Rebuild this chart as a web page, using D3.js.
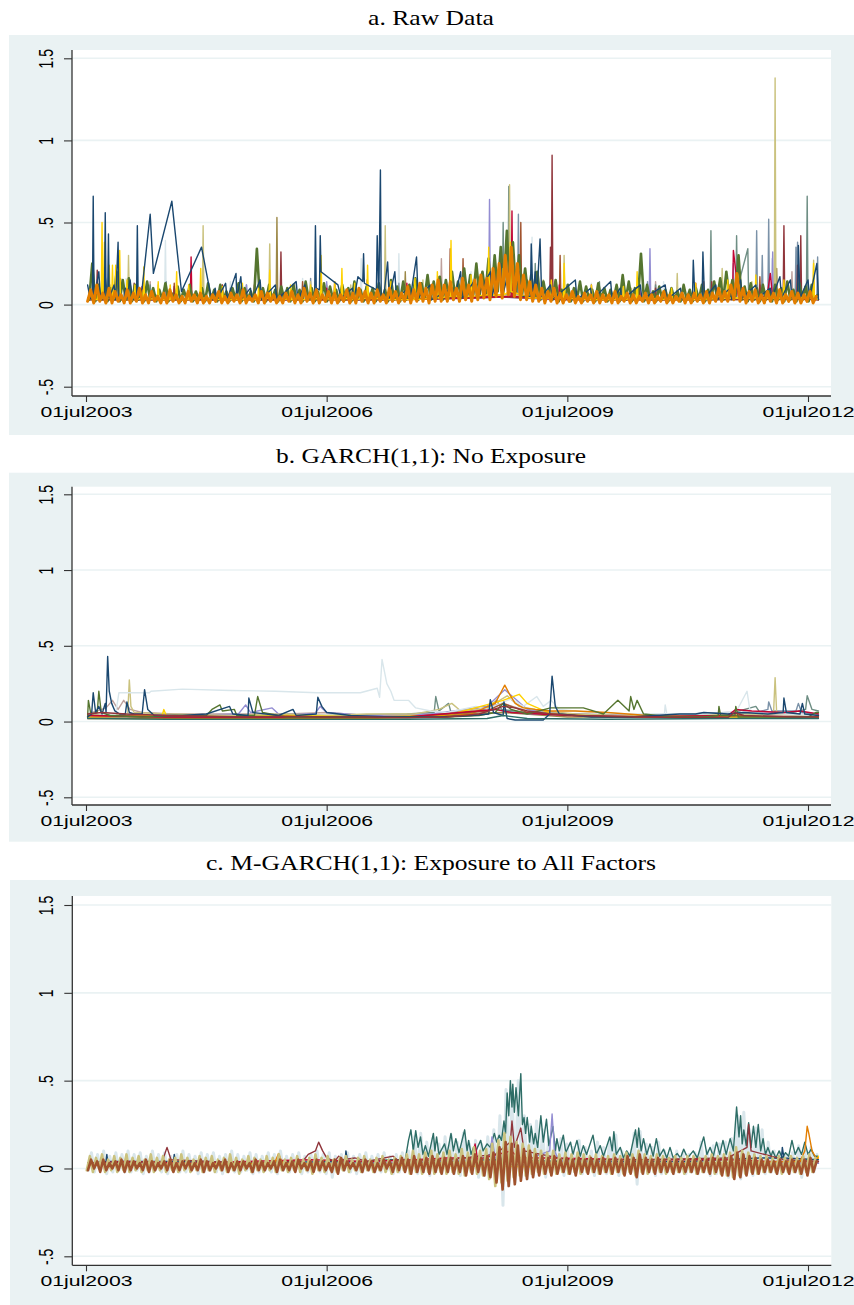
<!DOCTYPE html>
<html><head><meta charset="utf-8">
<script src="https://cdn.jsdelivr.net/npm/d3@7/dist/d3.min.js"></script>
<style>body{margin:0;background:#fff}svg{display:block}</style>
</head><body>
<svg id="chart" width="854" height="1305"></svg>
<script>
// ---------------- DATA ----------------
const titles = ["a. Raw Data", "b. GARCH(1,1): No Exposure", "c. M-GARCH(1,1): Exposure to All Factors"];
const xTickYears = [2003.5, 2006.5, 2009.5, 2012.5];
const xTickLabels = ["01jul2003", "01jul2006", "01jul2009", "01jul2012"];
const yTicks = [-0.5, 0, 0.5, 1, 1.5];
const yTickLabels = ["-.5", "0", ".5", "1", "1.5"];
const STEP = 0.038; // sampling step (years) of the dense series

// ---- panel a: raw data ----
const rawOrange = [.02,.09,.01,.12,.02,.07,.01,.1,.01,.08,.02,.06,.01,.09,
.01,.07,.02,.1,.01,.06,.01,.08,.02,.05,.01,.07,.01,.09,.02,.06,.01,.05,.01,.08,.02,.06,.01,.07,.01,.05,
.01,.06,.02,.08,.01,.05,.01,.07,.02,.06,.01,.09,.01,.05,.02,.06,.01,.08,.01,.07,.02,.06,.01,.05,.01,.07,
.02,.08,.01,.06,.01,.1,.02,.07,.01,.09,.01,.06,.02,.08,.01,.07,.01,.06,.02,.09,.01,.07,.01,.1,.02,.08,
.01,.07,.01,.09,.02,.06,.01,.1,.02,.08,.01,.07,.02,.11,.01,.09,.02,.13,.02,.1,.01,.12,.02,.15,.02,.12,
.02,.14,.03,.1,.02,.16,.03,.12,.02,.15,.03,.18,.04,.16,.03,.22,.05,.25,.04,.3,.06,.35,.05,.25,.03,.18,
.03,.14,.02,.12,.02,.1,.01,.08,.02,.1,.01,.07,.01,.06,.02,.08,.01,.05,.01,.07,.02,.06,.01,.08,.01,.06,
.02,.06,.01,.08,.01,.05,.02,.07,.01,.06,.01,.05,.02,.07,.01,.06,.01,.05,.02,.08,.01,.06,.01,.05,.02,.07,.01,.06,
.01,.07,.02,.06,.01,.08,.01,.07,.02,.1,.02,.08,.02,.12,.03,.19,.02,.1,.01,.08,.02,.09,.01,.06,.01,.08,
.02,.07,.01,.09,.01,.06,.02,.08,.01,.07,.01,.06,.02,.08,.01,.05];
const rawGreen = [.03,.25,.02,.12,.03,.18,.02,.1,.03,.2,.02,.15,.03,.16,
.02,.12,.03,.08,.02,.14,.03,.1,.02,.09,.03,.13,.02,.07,.03,.11,.02,.09,.03,.12,.02,.08,.03,.1,.02,.13,
.03,.09,.02,.12,.03,.08,.02,.1,.03,.13,.02,.1,.03,.08,.02,.34,.03,.1,.02,.12,.03,.09,.02,.11,.03,.1,
.02,.12,.03,.09,.02,.14,.03,.1,.02,.08,.03,.13,.02,.11,.03,.09,.02,.12,.03,.1,.02,.14,.03,.09,.02,.11,
.03,.1,.02,.13,.03,.09,.02,.15,.03,.11,.02,.14,.03,.12,.04,.16,.03,.13,.04,.18,.03,.14,.04,.17,.03,.15,
.04,.2,.05,.14,.04,.22,.05,.18,.06,.25,.05,.2,.07,.28,.06,.3,.08,.35,.1,.45,.08,.38,.07,.3,.06,.22,
.05,.18,.04,.2,.03,.14,.04,.1,.03,.15,.02,.09,.03,.12,.02,.1,.03,.14,.02,.11,.03,.09,.02,.13,.03,.1,
.02,.09,.03,.12,.02,.18,.03,.14,.02,.1,.03,.31,.02,.12,.03,.08,.02,.11,.03,.09,.02,.1,.03,.08,.02,.12,.03,.09,
.02,.1,.03,.12,.02,.09,.03,.14,.04,.16,.03,.2,.04,.15,.05,.3,.03,.11,.02,.13,.03,.1,.02,.12,.03,.09,
.02,.12,.03,.1,.02,.14,.03,.09,.02,.13,.03,.11,.02,.12,.03,.06];
const rawNavy = [[2003.52,.12],[2003.55,.04],[2003.58,.03],[2003.59,.66],[2003.60,.03],[2003.66,.2],[2003.68,.04],[2003.73,.05],[2003.74,.56],[2003.75,.05],[2003.77,.04],[2003.78,.43],[2003.79,.04],[2003.85,.12],[2003.87,.03],[2003.90,.38],[2003.91,.04],[2003.97,.03],[2003.99,.1],[2004.01,.03],[2004.05,.15],[2004.08,.03],[2004.13,.04],[2004.14,.48],[2004.15,.04],[2004.20,.1],[2004.30,.55],[2004.34,.19],[2004.57,.63],[2004.69,.08],[2004.94,.35],[2005.05,.07],[2005.08,.03],[2005.11,.1],[2005.13,.03],[2005.24,.13],[2005.26,.03],[2005.37,.19],[2005.38,.04],[2005.43,.17],[2005.45,.04],[2005.55,.1],[2005.57,.03],[2005.67,.15],[2005.69,.03],[2005.86,.12],[2005.88,.03],[2006.12,.14],[2006.14,.03],[2006.23,.12],[2006.25,.03],[2006.35,.04],[2006.36,.48],[2006.37,.1],[2006.41,.09],[2006.42,.42],[2006.43,.2],[2006.64,.12],[2006.68,.04],[2006.82,.1],[2006.84,.03],[2006.89,.17],[2006.95,.14],[2006.96,.31],[2006.97,.13],[2007.12,.09],[2007.13,.42],[2007.15,.04],[2007.17,.82],[2007.18,.05],[2007.21,.04],[2007.26,.26],[2007.28,.04],[2007.35,.2],[2007.37,.04],[2007.52,.1],[2007.54,.03],[2007.62,.29],[2007.64,.04],[2007.79,.12],[2007.81,.03],[2008.07,.1],[2008.09,.03],[2008.17,.2],[2008.19,.04],[2008.35,.15],[2008.37,.04],[2008.54,.2],[2008.56,.05],[2008.67,.25],[2008.69,.05],[2008.82,.3],[2008.84,.06],[2008.90,.2],[2008.92,.05],[2009.04,.05],[2009.05,.37],[2009.07,.05],[2009.10,.2],[2009.12,.05],[2009.16,.4],[2009.18,.05],[2009.29,.12],[2009.31,.03],[2009.60,.15],[2009.62,.03],[2009.79,.1],[2009.81,.03],[2010.04,.14],[2010.06,.03],[2010.16,.1],[2010.18,.03],[2010.41,.12],[2010.43,.03],[2010.72,.12],[2010.74,.03],[2010.91,.1],[2010.93,.03],[2011.06,.04],[2011.07,.27],[2011.09,.04],[2011.18,.04],[2011.19,.32],[2011.21,.04],[2011.35,.12],[2011.37,.03],[2011.53,.1],[2011.55,.03],[2011.66,.15],[2011.68,.04],[2011.85,.12],[2011.87,.04],[2012.03,.1],[2012.05,.04],[2012.15,.17],[2012.17,.04],[2012.28,.15],[2012.30,.04],[2012.37,.04],[2012.38,.36],[2012.40,.04],[2012.50,.15],[2012.52,.04],[2012.61,.25],[2012.63,.03]];
const rawGold = [[2003.52,.04],[2003.64,.03],[2003.65,.1],[2003.66,.03],[2003.69,.04],[2003.70,.5],[2003.71,.04],[2003.72,.04],[2003.73,.38],[2003.74,.04],[2003.78,.04],[2003.79,.24],[2003.80,.04],[2003.82,.04],[2003.83,.24],[2003.84,.04],[2003.86,.04],[2003.87,.24],[2003.88,.04],[2003.91,.04],[2003.92,.33],[2003.93,.04],[2004.00,.03],[2004.01,.15],[2004.02,.03],[2004.10,.03],[2004.11,.12],[2004.12,.03],[2004.21,.04],[2004.22,.23],[2004.23,.04],[2004.39,.03],[2004.40,.14],[2004.41,.03],[2004.54,.03],[2004.55,.12],[2004.56,.03],[2004.62,.04],[2004.63,.2],[2004.64,.03],[2004.77,.03],[2004.78,.12],[2004.79,.03],[2004.92,.04],[2004.93,.22],[2004.94,.04],[2005.19,.03],[2005.20,.11],[2005.21,.03],[2005.44,.03],[2005.45,.13],[2005.46,.03],[2005.64,.03],[2005.65,.1],[2005.66,.03],[2005.78,.04],[2005.79,.21],[2005.80,.04],[2006.04,.03],[2006.05,.12],[2006.06,.03],[2006.29,.03],[2006.30,.12],[2006.31,.03],[2006.42,.04],[2006.43,.3],[2006.44,.04],[2006.59,.03],[2006.60,.14],[2006.61,.03],[2006.68,.04],[2006.69,.22],[2006.70,.04],[2006.84,.03],[2006.85,.13],[2006.86,.03],[2007.00,.04],[2007.01,.24],[2007.02,.04],[2007.29,.03],[2007.30,.14],[2007.31,.03],[2007.59,.03],[2007.60,.16],[2007.61,.03],[2007.87,.04],[2007.88,.2],[2007.89,.04],[2008.04,.05],[2008.05,.39],[2008.06,.05],[2008.29,.05],[2008.30,.18],[2008.31,.05],[2008.51,.06],[2008.52,.35],[2008.53,.06],[2008.69,.06],[2008.70,.22],[2008.71,.06],[2008.78,.08],[2008.79,.38],[2008.80,.08],[2009.04,.04],[2009.05,.15],[2009.06,.04],[2009.29,.04],[2009.30,.15],[2009.31,.04],[2009.45,.04],[2009.46,.25],[2009.47,.04],[2009.79,.03],[2009.80,.12],[2009.81,.03],[2010.19,.03],[2010.20,.11],[2010.21,.03],[2010.36,.04],[2010.37,.2],[2010.38,.04],[2010.79,.03],[2010.80,.1],[2010.81,.03],[2011.09,.03],[2011.10,.13],[2011.11,.03],[2011.49,.04],[2011.50,.15],[2011.51,.04],[2011.84,.04],[2011.85,.18],[2011.86,.04],[2012.19,.04],[2012.20,.15],[2012.21,.04],[2012.56,.04],[2012.57,.25],[2012.58,.04],[2012.63,.03]];
const rawKhaki = [[2003.52,.04],[2003.79,.03],[2003.80,.12],[2003.81,.03],[2004.02,.03],[2004.03,.3],[2004.04,.03],[2004.39,.03],[2004.40,.12],[2004.41,.03],[2004.95,.04],[2004.96,.48],[2004.97,.04],[2005.39,.03],[2005.40,.13],[2005.41,.03],[2005.78,.04],[2005.79,.37],[2005.80,.04],[2006.29,.03],[2006.30,.14],[2006.31,.03],[2006.79,.03],[2006.80,.12],[2006.81,.03],[2007.22,.04],[2007.23,.48],[2007.24,.04],[2007.69,.04],[2007.70,.15],[2007.71,.04],[2008.29,.05],[2008.30,.16],[2008.31,.05],[2008.77,.06],[2008.78,.73],[2008.79,.06],[2009.19,.04],[2009.20,.15],[2009.21,.04],[2009.45,.04],[2009.46,.3],[2009.47,.04],[2010.29,.03],[2010.30,.1],[2010.31,.03],[2010.86,.03],[2010.87,.19],[2010.88,.03],[2011.42,.04],[2011.43,.22],[2011.44,.04],[2011.79,.04],[2011.80,.14],[2011.81,.04],[2012.08,.04],[2012.09,1.38],[2012.10,.04],[2012.56,.04],[2012.57,.27],[2012.58,.04],[2012.63,.03]];
const rawBrown = [[2003.52,.03],[2004.49,.03],[2004.50,.12],[2004.51,.03],[2005.19,.03],[2005.20,.1],[2005.21,.03],[2005.87,.03],[2005.88,.53],[2005.89,.03],[2006.49,.03],[2006.50,.12],[2006.51,.03],[2007.47,.03],[2007.48,.2],[2007.49,.03],[2008.29,.04],[2008.30,.14],[2008.31,.04],[2008.79,.05],[2008.80,.2],[2008.81,.05],[2009.59,.03],[2009.60,.1],[2009.61,.03],[2010.49,.03],[2010.50,.11],[2010.51,.03],[2011.49,.03],[2011.50,.13],[2011.51,.03],[2012.10,.03],[2012.11,.22],[2012.12,.03],[2012.63,.03]];
const rawMaroon = [[2003.52,.04],[2003.63,.03],[2003.64,.21],[2003.65,.03],[2004.09,.03],[2004.10,.13],[2004.11,.03],[2004.59,.03],[2004.60,.11],[2004.61,.03],[2005.19,.03],[2005.20,.12],[2005.21,.03],[2005.92,.03],[2005.93,.32],[2005.94,.03],[2006.59,.03],[2006.60,.14],[2006.61,.03],[2007.29,.03],[2007.30,.12],[2007.31,.03],[2007.89,.04],[2007.90,.16],[2007.91,.04],[2008.49,.05],[2008.50,.2],[2008.51,.05],[2008.99,.04],[2009.00,.15],[2009.01,.04],[2009.28,.04],[2009.29,.35],[2009.30,.04],[2009.31,.91],[2009.32,.04],[2009.79,.03],[2009.80,.12],[2009.81,.03],[2010.59,.03],[2010.60,.1],[2010.61,.03],[2011.29,.03],[2011.30,.14],[2011.31,.03],[2011.89,.03],[2011.90,.12],[2011.91,.03],[2012.19,.04],[2012.20,.48],[2012.21,.04],[2012.36,.04],[2012.37,.24],[2012.38,.04],[2012.40,.04],[2012.41,.42],[2012.42,.04],[2012.63,.03]];
const rawCranberry = [[2003.52,.03],[2004.19,.03],[2004.20,.11],[2004.21,.03],[2004.80,.03],[2004.81,.29],[2004.82,.03],[2005.59,.03],[2005.60,.12],[2005.61,.03],[2006.49,.03],[2006.50,.1],[2006.51,.03],[2007.49,.03],[2007.50,.13],[2007.51,.03],[2008.29,.04],[2008.30,.15],[2008.31,.04],[2008.80,.05],[2008.81,.57],[2008.82,.05],[2009.39,.03],[2009.40,.12],[2009.41,.03],[2010.39,.03],[2010.40,.11],[2010.41,.03],[2011.09,.03],[2011.10,.13],[2011.11,.03],[2011.56,.05],[2011.57,.33],[2011.60,.2],[2011.63,.05],[2011.99,.05],[2012.03,.19],[2012.06,.04],[2012.63,.03]];
const rawLavender = [[2003.52,.03],[2003.89,.03],[2003.90,.15],[2003.91,.03],[2004.49,.03],[2004.50,.1],[2004.51,.03],[2005.49,.03],[2005.50,.12],[2005.51,.03],[2006.49,.03],[2006.50,.14],[2006.51,.03],[2007.49,.03],[2007.50,.11],[2007.51,.03],[2008.52,.05],[2008.53,.64],[2008.54,.05],[2009.29,.03],[2009.30,.12],[2009.31,.03],[2010.52,.03],[2010.53,.34],[2010.54,.03],[2011.29,.03],[2011.30,.12],[2011.31,.03],[2011.56,.04],[2011.57,.25],[2011.58,.04],[2012.05,.04],[2012.06,.32],[2012.07,.04],[2012.63,.03]];
const rawTeal = [[2003.52,.03],[2004.29,.03],[2004.30,.12],[2004.31,.03],[2005.29,.03],[2005.30,.1],[2005.31,.03],[2006.29,.03],[2006.30,.11],[2006.31,.03],[2007.29,.03],[2007.30,.14],[2007.31,.03],[2008.19,.04],[2008.20,.18],[2008.21,.04],[2008.69,.06],[2008.70,.5],[2008.71,.06],[2008.76,.06],[2008.77,.72],[2008.78,.06],[2009.09,.04],[2009.10,.25],[2009.11,.04],[2009.89,.03],[2009.90,.14],[2009.91,.03],[2010.59,.03],[2010.60,.12],[2010.61,.03],[2011.28,.04],[2011.29,.45],[2011.30,.04],[2011.60,.04],[2011.61,.42],[2011.62,.1],[2011.75,.34],[2011.76,.04],[2012.48,.04],[2012.49,.66],[2012.50,.04],[2012.63,.03]];
const rawEmidblue = [[2003.52,.03],[2004.49,.03],[2004.50,.14],[2004.51,.03],[2005.49,.03],[2005.50,.12],[2005.51,.03],[2006.29,.03],[2006.30,.16],[2006.31,.03],[2007.39,.03],[2007.40,.13],[2007.41,.03],[2008.39,.04],[2008.40,.17],[2008.41,.04],[2008.88,.05],[2008.89,.55],[2008.90,.05],[2009.49,.03],[2009.50,.12],[2009.51,.03],[2010.49,.03],[2010.50,.14],[2010.51,.03],[2011.29,.03],[2011.30,.12],[2011.31,.03],[2011.85,.04],[2011.86,.45],[2011.87,.04],[2011.92,.04],[2011.93,.3],[2011.94,.04],[2012.00,.04],[2012.01,.52],[2012.02,.04],[2012.34,.04],[2012.35,.35],[2012.36,.04],[2012.37,.38],[2012.38,.04],[2012.61,.04],[2012.62,.29],[2012.63,.03]];
const rawSienna = [[2003.52,.04],[2003.92,.03],[2003.93,.16],[2003.94,.03],[2004.59,.03],[2004.60,.13],[2004.61,.03],[2005.39,.03],[2005.40,.11],[2005.41,.03],[2006.19,.03],[2006.20,.14],[2006.21,.03],[2006.99,.03],[2007.00,.12],[2007.01,.03],[2007.89,.04],[2007.90,.17],[2007.91,.04],[2008.03,.04],[2008.04,.34],[2008.05,.04],[2008.19,.04],[2008.20,.28],[2008.21,.04],[2008.59,.05],[2008.60,.2],[2008.61,.05],[2008.91,.05],[2008.92,.5],[2008.93,.05],[2009.40,.04],[2009.41,.3],[2009.42,.04],[2010.19,.03],[2010.20,.12],[2010.21,.03],[2011.19,.03],[2011.20,.14],[2011.21,.03],[2011.89,.04],[2011.90,.17],[2011.91,.04],[2012.63,.03]];
const rawErose = [[2003.52,.03],[2004.29,.03],[2004.30,.14],[2004.31,.03],[2005.19,.03],[2005.20,.12],[2005.21,.03],[2006.09,.03],[2006.10,.13],[2006.11,.03],[2006.99,.03],[2007.00,.15],[2007.01,.03],[2007.92,.04],[2007.93,.28],[2007.94,.04],[2008.59,.05],[2008.60,.17],[2008.61,.05],[2009.49,.03],[2009.50,.12],[2009.51,.03],[2010.59,.03],[2010.60,.14],[2010.61,.03],[2011.49,.03],[2011.50,.13],[2011.51,.03],[2012.29,.04],[2012.30,.2],[2012.31,.04],[2012.63,.03]];
const rawBluish = [[2003.52,.04],[2003.99,.03],[2004.00,.16],[2004.01,.03],[2004.48,.03],[2004.49,.39],[2004.50,.03],[2005.29,.03],[2005.30,.14],[2005.31,.03],[2006.19,.03],[2006.20,.16],[2006.21,.03],[2006.92,.04],[2006.93,.28],[2006.94,.04],[2007.39,.04],[2007.40,.31],[2007.41,.04],[2008.29,.05],[2008.30,.2],[2008.31,.05],[2008.89,.06],[2008.90,.25],[2008.91,.06],[2009.05,.05],[2009.06,.41],[2009.07,.05],[2009.79,.03],[2009.80,.13],[2009.81,.03],[2010.69,.03],[2010.70,.14],[2010.71,.03],[2011.59,.04],[2011.60,.17],[2011.61,.04],[2012.04,.04],[2012.05,.28],[2012.06,.04],[2012.63,.03]];

// ---- panel b: GARCH(1,1), no exposure ----
const garchBluish = [[2003.52,.03],[2003.8,.05],[2003.87,.05],[2003.91,.19],[2004.29,.19],[2004.31,.2],[2004.70,.214],[2005.30,.205],[2005.86,.2],[2006.38,.19],[2006.92,.19],[2007.13,.22],[2007.16,.16],[2007.19,.41],[2007.25,.25],[2007.30,.2],[2007.34,.14],[2007.52,.14],[2007.61,.09],[2007.8,.07],[2008.0,.06],[2008.36,.1],[2008.5,.08],[2008.8,.15],[2008.95,.1],[2009.12,.165],[2009.2,.1],[2009.3,.14],[2009.4,.08],[2009.8,.06],[2010.3,.05],[2010.71,.05],[2010.72,.11],[2010.74,.05],[2011.2,.05],[2011.6,.06],[2011.74,.2],[2011.78,.06],[2012.2,.05],[2012.63,.04]];
const garchNavy = [[2003.52,.03],[2003.57,.05],[2003.59,.19],[2003.62,.06],[2003.66,.1],[2003.7,.05],[2003.74,.12],[2003.75,.06],[2003.77,.43],[2003.79,.2],[2003.82,.12],[2003.86,.07],[2003.92,.05],[2003.99,.05],[2004.01,.13],[2004.04,.06],[2004.1,.05],[2004.2,.05],[2004.23,.21],[2004.27,.08],[2004.35,.04],[2004.7,.04],[2005.0,.05],[2005.29,.1],[2005.33,.05],[2005.52,.04],[2005.53,.155],[2005.58,.06],[2005.9,.04],[2006.08,.08],[2006.12,.04],[2006.37,.05],[2006.39,.16],[2006.44,.1],[2006.5,.06],[2006.8,.04],[2007.3,.03],[2007.9,.03],[2008.3,.04],[2008.52,.05],[2008.54,.145],[2008.58,.06],[2008.7,.04],[2008.71,.13],[2008.75,.02],[2008.85,.01],[2009.2,.01],[2009.28,.05],[2009.31,.3],[2009.35,.1],[2009.4,.05],[2009.8,.03],[2010.3,.03],[2010.9,.05],[2011.1,.05],[2011.2,.06],[2011.5,.05],[2011.7,.06],[2012.0,.05],[2012.19,.06],[2012.20,.155],[2012.23,.06],[2012.4,.05],[2012.43,.12],[2012.46,.05],[2012.63,.04]];
const garchGreen = [[2003.52,.03],[2003.53,.14],[2003.56,.05],[2003.64,.06],[2003.66,.2],[2003.69,.06],[2003.8,.04],[2004.2,.03],[2004.6,.04],[2005.0,.04],[2005.07,.08],[2005.17,.11],[2005.2,.07],[2005.35,.08],[2005.38,.04],[2005.6,.04],[2005.64,.165],[2005.7,.06],[2006.0,.03],[2006.5,.03],[2007.0,.03],[2007.5,.03],[2008.0,.03],[2008.4,.04],[2008.6,.06],[2008.7,.12],[2008.8,.08],[2009.0,.05],[2009.29,.09],[2009.70,.09],[2009.95,.05],[2010.13,.14],[2010.27,.07],[2010.29,.165],[2010.33,.08],[2010.37,.14],[2010.45,.05],[2010.8,.03],[2011.2,.03],[2011.38,.04],[2011.39,.1],[2011.41,.04],[2011.59,.04],[2011.6,.1],[2011.63,.03],[2012.0,.03],[2012.5,.03],[2012.6,.06],[2012.63,.06]];
const garchKhaki = [[2003.52,.04],[2003.8,.05],[2004.02,.05],[2004.04,.275],[2004.06,.1],[2004.1,.06],[2004.5,.05],[2005.3,.04],[2006.0,.05],[2006.5,.04],[2007.0,.05],[2007.6,.05],[2007.9,.08],[2008.06,.12],[2008.15,.08],[2008.3,.07],[2008.5,.09],[2008.75,.17],[2008.9,.1],[2009.2,.07],[2009.6,.05],[2010.2,.04],[2011.0,.04],[2011.6,.05],[2012.07,.05],[2012.09,.29],[2012.11,.05],[2012.63,.04]];
const garchLavender = [[2003.52,.04],[2004.0,.05],[2004.8,.04],[2005.4,.05],[2005.49,.11],[2005.55,.06],[2005.82,.09],[2005.9,.05],[2006.35,.05],[2006.42,.1],[2006.5,.06],[2007.0,.04],[2007.8,.05],[2008.5,.1],[2008.72,.21],[2008.85,.15],[2009.0,.08],[2009.5,.05],[2010.5,.04],[2011.5,.05],[2012.0,.06],[2012.63,.04]];
const garchOrange = [[2003.52,.02],[2004.0,.02],[2005.0,.02],[2006.0,.02],[2007.0,.02],[2007.8,.03],[2008.3,.05],[2008.6,.12],[2008.68,.2],[2008.72,.24],[2008.78,.18],[2008.85,.12],[2008.95,.09],[2009.1,.08],[2009.3,.07],[2009.6,.07],[2010.0,.06],[2010.5,.04],[2011.0,.03],[2011.6,.04],[2012.0,.03],[2012.63,.03]];
const garchMaroon = [[2003.52,.05],[2003.7,.06],[2004.0,.05],[2004.5,.04],[2005.0,.035],[2005.5,.03],[2006.0,.035],[2006.5,.03],[2007.0,.03],[2007.5,.025],[2008.0,.03],[2008.4,.05],[2008.7,.1],[2008.85,.09],[2009.0,.07],[2009.3,.05],[2009.6,.04],[2010.0,.035],[2010.5,.03],[2011.0,.025],[2011.5,.025],[2011.58,.06],[2011.7,.04],[2012.0,.035],[2012.3,.03],[2012.63,.03]];
const garchCranberry = [[2003.52,.04],[2004.5,.03],[2006.0,.03],[2007.5,.03],[2008.6,.08],[2008.8,.06],[2009.5,.04],[2010.5,.03],[2011.5,.04],[2011.6,.08],[2011.8,.07],[2012.2,.06],[2012.4,.07],[2012.63,.05]];
const garchErose = [[2003.52,.05],[2003.75,.09],[2003.83,.14],[2003.9,.08],[2003.97,.14],[2004.05,.08],[2004.2,.06],[2004.6,.05],[2005.3,.05],[2006.0,.05],[2006.5,.06],[2007.0,.04],[2008.0,.05],[2008.7,.12],[2009.0,.07],[2009.5,.05],[2010.5,.04],[2011.5,.05],[2012.0,.05],[2012.63,.04]];
const garchTeal = [[2003.52,.04],[2004.5,.04],[2005.5,.04],[2006.5,.04],[2007.5,.05],[2007.84,.06],[2007.86,.165],[2007.9,.07],[2008.02,.12],[2008.05,.06],[2008.5,.08],[2008.62,.14],[2008.68,.08],[2009.0,.06],[2010.0,.04],[2011.0,.04],[2011.5,.05],[2011.85,.1],[2011.9,.06],[2012.3,.06],[2012.47,.08],[2012.49,.17],[2012.55,.08],[2012.63,.07]];
const garchEmidblue = [[2003.52,.03],[2004.5,.03],[2005.5,.03],[2006.5,.03],[2007.5,.03],[2008.6,.08],[2009.0,.05],[2010.0,.04],[2011.0,.05],[2011.5,.06],[2011.85,.06],[2012.0,.08],[2012.01,.13],[2012.05,.07],[2012.35,.07],[2012.38,.12],[2012.42,.06],[2012.63,.05]];
const garchGold = [[2003.52,.03],[2004.45,.04],[2004.47,.08],[2004.5,.04],[2005.3,.03],[2006.0,.04],[2007.0,.03],[2008.0,.04],[2008.7,.14],[2008.9,.18],[2009.0,.12],[2009.3,.05],[2010.0,.03],[2011.0,.03],[2012.0,.03],[2012.63,.03]];
const garchSienna = [[2003.52,.04],[2004.5,.03],[2006.0,.03],[2007.5,.03],[2008.5,.07],[2008.7,.12],[2009.0,.06],[2010.0,.03],[2011.5,.04],[2012.63,.03]];
const garchEmerald = [[2003.52,.02],[2004.5,.015],[2006.0,.015],[2007.5,.015],[2008.5,.02],[2008.7,.04],[2009.0,.02],[2010.0,.015],[2011.5,.02],[2012.63,.02]];
const garchBrown = [[2003.52,.03],[2005,.03],[2007,.03],[2008.7,.06],[2009.5,.03],[2011.5,.03],[2012.63,.03]];

// ---- panel c: M-GARCH(1,1), exposure to all factors ----
const mgBluish = [-.01,.09,-.02,.08,-.01,.1,-.03,.07,-.02,.09,-.01,.08,-.02,.1,
-.02,.08,-.01,.09,-.03,.07,-.02,.1,-.01,.08,-.02,.09,-.03,.07,-.01,.08,-.02,.1,-.02,.08,-.01,.07,-.03,.09,-.02,.08,
-.01,.09,-.02,.07,-.03,.08,-.01,.1,-.02,.08,-.02,.07,-.01,.09,-.03,.08,-.02,.07,-.01,.09,-.02,.08,-.03,.1,-.01,.07,
-.02,.08,-.01,.09,-.03,.07,-.02,.08,-.01,.1,-.02,.08,-.03,.09,-.05,.07,-.02,.08,-.01,.09,-.02,.07,-.03,.08,-.02,.09,
-.01,.07,-.02,.08,-.02,.09,-.01,.07,-.03,.08,-.02,.09,-.01,.1,-.02,.18,-.03,.2,-.02,.15,-.04,.17,-.02,.14,-.03,.18,
-.02,.19,-.03,.15,-.04,.2,-.02,.14,-.03,.16,-.05,.14,-.04,.18,-.03,.22,-.06,.3,-.21,.45,-.1,.42,-.08,.5,-.05,.3,
-.06,.25,-.04,.27,-.03,.22,-.05,.18,-.03,.15,-.02,.17,-.04,.14,-.03,.12,-.02,.16,-.03,.12,-.02,.1,-.04,.15,-.02,.12,
-.03,.17,-.02,.19,-.04,.1,-.03,.09,-.02,.2,-.09,.21,-.03,.14,-.02,.12,-.04,.15,-.03,.1,-.02,.08,-.03,.1,-.02,.09,-.03,.08,
-.02,.09,-.03,.15,-.02,.1,-.04,.13,-.03,.14,-.02,.15,-.05,.17,-.04,.3,-.06,.32,-.03,.22,-.04,.23,-.02,.22,-.03,.15,
-.02,.1,-.03,.09,-.02,.08,-.03,.09,-.02,.13,-.05,.1,-.03,.12,-.02,.08];
const mgKhaki = [-.01,.07,-.02,.06,0,.08,-.02,.05,-.01,.07,-.02,.06,-.01,.08,
-.02,.06,-.01,.07,-.02,.05,-.01,.08,-.02,.06,-.01,.07,-.02,.05,-.01,.06,-.02,.08,-.01,.06,-.02,.05,-.01,.07,-.02,.06,
-.01,.07,-.02,.05,-.01,.06,-.02,.08,-.01,.06,-.03,.05,-.01,.07,-.02,.06,-.01,.05,-.02,.07,-.01,.06,-.02,.08,-.01,.05,
-.02,.06,-.01,.07,-.02,.05,-.01,.06,-.03,.08,-.01,.06,-.02,.07,-.01,.05,-.02,.06,-.01,.07,-.02,.05,-.01,.06,-.02,.07,
-.01,.05,-.02,.06,-.01,.07,-.02,.05,-.03,.06,-.02,.07,-.01,.08,-.03,.1,-.02,.08,-.03,.09,-.02,.1,-.03,.08,-.02,.09,
-.03,.1,-.02,.08,-.03,.11,-.04,.09,-.02,.12,-.03,.1,-.04,.11,-.06,.14,-.1,.16,-.08,.2,-.07,.18,-.05,.15,-.04,.14,
-.04,.13,-.03,.11,-.02,.1,-.03,.09,-.02,.1,-.03,.08,-.02,.09,-.03,.08,-.02,.09,-.03,.08,-.02,.07,-.02,.08,-.03,.07,
-.02,.07,-.03,.08,-.02,.07,-.03,.09,-.02,.08,-.04,.1,-.02,.08,-.03,.07,-.02,.08,-.02,.07,-.03,.06,-.02,.07,-.02,.06,-.03,.07,
-.02,.07,-.03,.06,-.02,.07,-.02,.08,-.03,.07,-.03,.08,-.04,.09,-.05,.12,-.04,.1,-.03,.09,-.02,.08,-.03,.07,-.02,.07,
-.02,.06,-.02,.07,-.03,.06,-.02,.07,-.02,.06,-.03,.07,-.02,.08,-.02,.06];
const mgSienna = [-.01,.05,0,.04,-.02,.05,-.01,.03,0,.04,-.01,.05,-.02,.04,
-.01,.04,0,.03,-.01,.05,-.02,.04,-.01,.03,0,.04,-.01,.05,-.02,.03,-.01,.04,0,.04,-.01,.03,-.01,.05,-.02,.04,
-.01,.03,0,.04,-.01,.05,-.02,.03,-.01,.04,-.01,.04,0,.03,-.02,.05,-.01,.04,-.01,.03,0,.04,-.02,.05,-.01,.03,
-.01,.04,-.02,.05,0,.03,-.01,.04,-.02,.05,-.01,.04,-.01,.03,-.02,.05,-.03,.06,-.01,.04,0,.03,-.01,.04,-.02,.05,
-.01,.04,-.02,.03,-.01,.05,0,.04,-.02,.05,-.01,.06,-.02,.05,-.03,.07,-.02,.05,-.02,.06,-.03,.07,-.02,.05,-.03,.06,
-.02,.06,-.03,.05,-.02,.07,-.04,.06,-.03,.08,-.02,.06,-.04,.07,-.05,.09,-.08,.12,-.12,.15,-.1,.14,-.09,.13,-.07,.11,
-.06,.1,-.05,.08,-.04,.07,-.03,.06,-.04,.07,-.03,.05,-.02,.06,-.03,.05,-.04,.06,-.02,.05,-.03,.06,-.02,.05,-.03,.06,
-.02,.05,-.03,.06,-.02,.05,-.04,.07,-.03,.06,-.05,.08,-.03,.06,-.02,.05,-.03,.06,-.02,.05,-.02,.04,-.03,.05,-.02,.04,-.02,.05,
-.02,.05,-.03,.04,-.02,.05,-.03,.06,-.02,.05,-.04,.06,-.04,.07,-.06,.09,-.05,.08,-.04,.07,-.03,.06,-.03,.05,-.02,.05,
-.02,.04,-.03,.05,-.02,.04,-.03,.05,-.02,.04,-.03,.05,-.04,.06,-.02,.04];
const mgEmerald = [[2003.52,.03],[2004.0,.04],[2004.5,.03],[2005.0,.04],[2005.5,.03],[2006.0,.04],[2006.5,.03],[2007.0,.04],[2007.3,.05],[2007.48,.05],[2007.52,.16],[2007.55,.22],[2007.58,.1],[2007.61,.215],[2007.64,.12],[2007.67,.18],[2007.7,.08],[2007.73,.13],[2007.77,.07],[2007.83,.2],[2007.85,.1],[2007.87,.18],[2007.9,.08],[2007.97,.14],[2008.0,.08],[2008.05,.2],[2008.08,.1],[2008.11,.17],[2008.15,.09],[2008.22,.22],[2008.25,.1],[2008.27,.16],[2008.3,.08],[2008.33,.12],[2008.36,.1],[2008.42,.16],[2008.45,.1],[2008.5,.14],[2008.54,.12],[2008.59,.2],[2008.62,.15],[2008.65,.19],[2008.68,.16],[2008.71,.27],[2008.73,.2],[2008.75,.43],[2008.77,.3],[2008.79,.5],[2008.81,.35],[2008.82,.48],[2008.84,.32],[2008.86,.46],[2008.89,.3],[2008.92,.54],[2008.94,.25],[2008.96,.29],[2008.98,.2],[2009.0,.29],[2009.03,.15],[2009.05,.24],[2009.08,.14],[2009.1,.2],[2009.13,.12],[2009.17,.3],[2009.2,.15],[2009.24,.28],[2009.27,.13],[2009.32,.24],[2009.35,.1],[2009.37,.17],[2009.4,.1],[2009.45,.19],[2009.48,.09],[2009.54,.15],[2009.57,.08],[2009.62,.16],[2009.66,.07],[2009.7,.13],[2009.74,.08],[2009.82,.19],[2009.86,.08],[2009.91,.13],[2009.95,.07],[2010.03,.18],[2010.06,.1],[2010.08,.21],[2010.11,.08],[2010.16,.12],[2010.2,.06],[2010.24,.1],[2010.28,.07],[2010.35,.22],[2010.37,.12],[2010.39,.23],[2010.42,.1],[2010.45,.17],[2010.49,.08],[2010.53,.14],[2010.57,.07],[2010.61,.17],[2010.65,.07],[2010.7,.11],[2010.74,.06],[2010.78,.12],[2010.82,.06],[2010.87,.085],[2010.91,.06],[2010.95,.11],[2011.0,.06],[2011.07,.1],[2011.12,.06],[2011.2,.18],[2011.24,.08],[2011.28,.12],[2011.32,.07],[2011.36,.15],[2011.4,.08],[2011.44,.16],[2011.48,.08],[2011.53,.17],[2011.57,.1],[2011.61,.35],[2011.64,.18],[2011.66,.3],[2011.68,.14],[2011.7,.22],[2011.73,.13],[2011.76,.26],[2011.79,.12],[2011.82,.24],[2011.85,.12],[2011.88,.25],[2011.91,.1],[2011.94,.17],[2011.97,.08],[2012.0,.12],[2012.04,.07],[2012.06,.1],[2012.1,.06],[2012.14,.1],[2012.18,.06],[2012.22,.09],[2012.26,.07],[2012.3,.16],[2012.34,.08],[2012.38,.12],[2012.42,.08],[2012.46,.15],[2012.5,.08],[2012.54,.11],[2012.58,.07],[2012.62,.07]];
const mgMaroon = [[2003.52,.03],[2004.45,.04],[2004.51,.12],[2004.56,.05],[2005.5,.03],[2006.2,.04],[2006.27,.08],[2006.36,.1],[2006.40,.15],[2006.45,.1],[2006.5,.06],[2006.6,.04],[2006.65,.07],[2006.7,.05],[2006.85,.06],[2007.0,.04],[2007.33,.07],[2007.4,.04],[2008.0,.05],[2008.6,.08],[2008.79,.15],[2008.81,.27],[2008.84,.12],[2008.92,.23],[2008.96,.1],[2009.5,.05],[2010.4,.05],[2011.5,.06],[2011.74,.12],[2011.76,.25],[2011.79,.1],[2012.2,.05],[2012.63,.04]];
const mgLavender = [[2003.52,.02],[2005.0,.03],[2007.0,.03],[2008.4,.05],[2008.54,.08],[2008.56,.18],[2008.6,.06],[2009.0,.05],[2009.28,.1],[2009.31,.31],[2009.34,.1],[2009.4,.04],[2010.5,.03],[2012.63,.03]];
const mgCranberry = [[2003.52,.03],[2004.0,.04],[2004.8,.03],[2005.5,.04],[2006.3,.05],[2007.0,.04],[2007.6,.05],[2008.0,.06],[2008.32,.06],[2008.35,.14],[2008.38,.05],[2008.8,.1],[2008.9,.06],[2009.3,.06],[2010.4,.05],[2011.5,.05],[2012.0,.04],[2012.63,.04]];
const mgNavy = [[2003.52,.03],[2003.75,.04],[2003.76,.08],[2003.77,.04],[2004.59,.04],[2004.60,.08],[2004.61,.04],[2005.5,.03],[2006.73,.04],[2006.74,.1],[2006.76,.04],[2007.5,.03],[2008.5,.05],[2009.5,.04],[2010.5,.04],[2011.0,.04],[2011.9,.06],[2012.1,.06],[2012.17,.06],[2012.18,.12],[2012.2,.06],[2012.63,.05]];
const mgOrange = [[2003.52,.02],[2005.85,.03],[2005.9,.085],[2005.95,.03],[2007.0,.02],[2008.8,.04],[2010.0,.02],[2012.4,.04],[2012.46,.1],[2012.49,.24],[2012.51,.2],[2012.55,.1],[2012.6,.06],[2012.63,.06]];
const mgGold = [[2003.52,.02],[2005.0,.02],[2007.0,.02],[2009.0,.01],[2011.0,.02],[2012.6,.03],[2012.63,.07]];
const mgGreen = [[2003.52,.02],[2005.0,.03],[2006.5,.03],[2006.55,.05],[2006.6,.03],[2008.0,.03],[2009.0,.02],[2011.0,.03],[2012.63,.03]];

// ---------------- STYLE / LAYOUT ----------------
const C = {navy:"#1a476f", maroon:"#90353b", forest:"#55752f", dkorange:"#e37e00", teal:"#6e8e84",
  cranberry:"#c10534", lavender:"#938dd2", khaki:"#cac27e", sienna:"#a0522d", emidblue:"#7b92a8",
  emerald:"#2d6d66", brown:"#9c8847", erose:"#bfa19c", gold:"#ffd200", bluish:"#d9e6eb"};

const panels = [
  {title:titles[0], tw:126, ty:25, gray:[9,35,854,435], plot:[72,50,831,396], yr:[386.7,58.3], series:[
    {d:rawBluish,c:C.bluish},{d:rawErose,c:C.erose},{d:rawBrown,c:C.brown},{d:rawEmidblue,c:C.emidblue},
    {d:rawLavender,c:C.lavender},{d:rawTeal,c:C.teal},{d:rawSienna,c:C.sienna},{d:rawKhaki,c:C.khaki},
    {d:rawMaroon,c:C.maroon},{d:rawCranberry,c:C.cranberry},{v:rawGreen,t0:2003.54,c:C.forest,w:2.6},
    {d:rawGold,c:C.gold},{d:rawNavy,c:C.navy},{v:rawOrange,t0:2003.52,c:C.dkorange,w:3}]},
  {title:titles[1], tw:310, ty:463, gray:[9,472.7,854,841.7], plot:[72,486.7,831,805], yr:[797.3,494.3], series:[
    {d:garchBrown,c:C.brown},{d:garchEmidblue,c:C.emidblue},{d:garchTeal,c:C.teal},{d:garchErose,c:C.erose},
    {d:garchLavender,c:C.lavender},{d:garchKhaki,c:C.khaki},{d:garchBluish,c:C.bluish},{d:garchGold,c:C.gold},
    {d:garchOrange,c:C.dkorange},{d:garchSienna,c:C.sienna},{d:garchCranberry,c:C.cranberry},
    {d:garchGreen,c:C.forest},{d:garchNavy,c:C.navy},{d:garchMaroon,c:C.maroon},{d:garchEmerald,c:C.emerald}]},
  {title:titles[2], tw:450, ty:870, gray:[10,880,854,1305], plot:[72.3,896,831.3,1265.3], yr:[1256.3,905], series:[
    {v:mgBluish,t0:2003.53,c:C.bluish,w:3},{d:mgEmerald,c:C.emerald},{d:mgGreen,c:C.forest},{d:mgGold,c:C.gold},
    {d:mgNavy,c:C.navy},{d:mgLavender,c:C.lavender},{d:mgCranberry,c:C.cranberry},{d:mgMaroon,c:C.maroon},
    {d:mgOrange,c:C.dkorange},{v:mgKhaki,t0:2003.51,c:C.khaki,w:2.6},{v:mgSienna,t0:2003.525,c:C.sienna,w:2.6}]}
];

// ---------------- DRAW ----------------
const svg = d3.select("#chart");
svg.append("rect").attr("width",854).attr("height",1305).attr("fill","#ffffff");
const x = d3.scaleLinear().domain([2003.5, 2012.5]).range([86, 808]);
const sans = "'Liberation Sans', Arial, Helvetica, sans-serif";

panels.forEach((p, i) => {
  const g = svg.append("g");
  const [gx0, gy0, gx1, gy1] = p.gray, [px0, py0, px1, py1] = p.plot;
  g.append("rect").attr("x",gx0).attr("y",gy0).attr("width",gx1-gx0).attr("height",gy1-gy0).attr("fill","#eaf2f3");
  g.append("rect").attr("x",px0).attr("y",py0).attr("width",px1-px0).attr("height",py1-py0).attr("fill","#ffffff");
  g.append("text").attr("x",431).attr("y",p.ty).attr("text-anchor","middle")
    .attr("font-family","'Liberation Serif', 'Times New Roman', serif").attr("font-size",22)
    .attr("textLength",p.tw).attr("lengthAdjust","spacingAndGlyphs").attr("fill","#000").text(p.title);

  const y = d3.scaleLinear().domain([-0.5, 1.5]).range(p.yr);

  g.append("g").selectAll("line").data(yTicks).join("line")
    .attr("x1",px0).attr("x2",px1).attr("y1",d=>y(d)).attr("y2",d=>y(d))
    .attr("stroke","#eaf2f3").attr("stroke-width",1.6);

  const cid = "clip"+i;
  svg.append("clipPath").attr("id",cid).append("rect")
    .attr("x",px0+1).attr("y",py0).attr("width",px1-px0-1).attr("height",py1-py0-1);
  const lines = g.append("g").attr("clip-path",`url(#${cid})`);
  const line = d3.line().x(d=>x(d[0])).y(d=>y(d[1]));
  p.series.forEach(s => {
    const pts = s.v ? s.v.map((v,k)=>[s.t0 + k*STEP, v]) : s.d;
    lines.append("path").attr("d", line(pts)).attr("fill","none")
      .attr("stroke", s.c).attr("stroke-width", s.w || 1.4)
      .attr("stroke-linejoin","round").attr("stroke-linecap","round");
  });

  const ya = g.append("g").attr("transform",`translate(${px0},0)`)
    .call(d3.axisLeft(y).tickValues(yTicks).tickFormat((d,k)=>yTickLabels[k]).tickSize(8).tickSizeOuter(0));
  ya.select(".domain").remove();
  ya.selectAll(".tick line").attr("stroke","#333").attr("stroke-width",1.1);
  ya.selectAll(".tick text").attr("x",null).attr("dy",null).attr("text-anchor","middle")
    .attr("transform",`translate(${53-px0},0) scale(1.4,1) rotate(-90)`)
    .attr("font-family",sans).attr("font-size",14).attr("fill","#000");
  g.append("line").attr("x1",px0).attr("x2",px0).attr("y1",py0).attr("y2",py1).attr("stroke","#333").attr("stroke-width",1.3);

  const xa = g.append("g").attr("transform",`translate(0,${py1})`)
    .call(d3.axisBottom(x).tickValues(xTickYears).tickFormat((d,k)=>xTickLabels[k]).tickSize(6).tickSizeOuter(0));
  xa.select(".domain").remove();
  xa.selectAll(".tick line").attr("stroke","#333").attr("stroke-width",1.1);
  xa.selectAll(".tick text").attr("y",21).attr("dy",null)
    .attr("font-family",sans).attr("font-size",14).attr("fill","#000")
    .attr("textLength",92).attr("lengthAdjust","spacingAndGlyphs");
  g.append("line").attr("x1",px0).attr("x2",px1).attr("y1",py1).attr("y2",py1).attr("stroke","#333").attr("stroke-width",1.3);
});
</script>
</body></html>
